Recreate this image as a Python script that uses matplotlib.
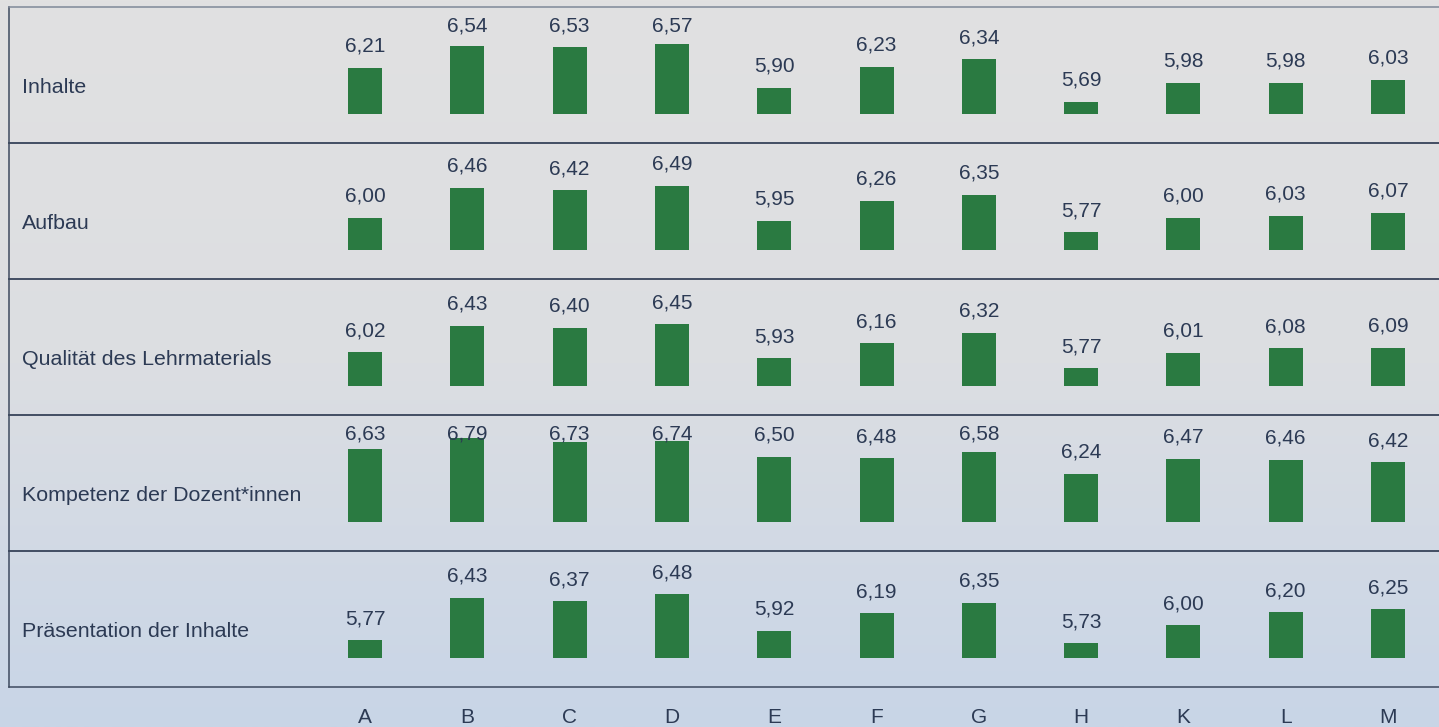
import numpy as np
import matplotlib
matplotlib.use("Agg")
import matplotlib.pyplot as plt
from matplotlib.colors import LinearSegmentedColormap
from matplotlib.transforms import blended_transform_factory

plt.rcParams['font.family'] = ['Liberation Sans', 'DejaVu Sans']

# ---------------- data ----------------
categories = ["A", "B", "C", "D", "E", "F", "G", "H", "K", "L", "M"]
row_labels = ["Inhalte", "Aufbau", "Qualität des Lehrmaterials",
              "Kompetenz der Dozent*innen", "Präsentation der Inhalte"]
inhalte      = [6.21, 6.54, 6.53, 6.57, 5.90, 6.23, 6.34, 5.69, 5.98, 5.98, 6.03]
aufbau       = [6.00, 6.46, 6.42, 6.49, 5.95, 6.26, 6.35, 5.77, 6.00, 6.03, 6.07]
qualitaet    = [6.02, 6.43, 6.40, 6.45, 5.93, 6.16, 6.32, 5.77, 6.01, 6.08, 6.09]
kompetenz    = [6.63, 6.79, 6.73, 6.74, 6.50, 6.48, 6.58, 6.24, 6.47, 6.46, 6.42]
praesentation = [5.77, 6.43, 6.37, 6.48, 5.92, 6.19, 6.35, 5.73, 6.00, 6.20, 6.25]
series = [inhalte, aufbau, qualitaet, kompetenz, praesentation]
baseline = 5.5

# ---------------- layout (pixels) ----------------
W, H = 1439, 727
DPI = 100
panel_top0 = 7
panel_h = 136
left_px = 9
right_px = 1441
base_off = 107          # baseline below panel top
ppu = 65.0              # pixels per value unit
col0_px, colN_px = 365.0, 1388.0
col_step = (colN_px - col0_px) / (len(categories) - 1)
bar_w = 34.0 / col_step

text_color = "#2c3a54"
bar_color = "#2a7a41"
line_color = "#3e4a5f"
fs = 15

fig = plt.figure(figsize=(W / DPI, H / DPI), dpi=DPI)

# background gradient
bg = fig.add_axes([0, 0, 1, 1], zorder=-10)
cmap = LinearSegmentedColormap.from_list("bg", ["#e1e1e1", "#dcdee2", "#c8d5e7"])
grad = np.linspace(0, 1, 256).reshape(-1, 1)
bg.imshow(grad, aspect="auto", cmap=cmap, extent=[0, 1, 0, 1], origin="upper")
bg.set_axis_off()

x = np.arange(len(categories))
xlim_left = -(col0_px - left_px) / col_step
xlim_right = (len(categories) - 1) + (right_px - colN_px) / col_step

for i, (lab, vals) in enumerate(zip(row_labels, series)):
    top_px = panel_top0 + i * panel_h
    ax = fig.add_axes([left_px / W, 1 - (top_px + panel_h) / H,
                       (right_px - left_px) / W, panel_h / H])
    ax.set_facecolor("none")
    ymin = baseline - (panel_h - base_off) / ppu
    ymax = baseline + base_off / ppu
    ax.set_xlim(xlim_left, xlim_right)
    ax.set_ylim(ymin, ymax)
    ax.bar(x, np.array(vals) - baseline, bottom=baseline, width=bar_w,
           color=bar_color, zorder=2)
    for xi, v in zip(x, vals):
        ty = min(v + 16.0 / ppu, ymax - 24 / ppu)
        ax.text(xi, ty, f"{v:.2f}".replace(".", ","), ha="center",
                va="baseline", fontsize=fs, color=text_color, zorder=3,
                clip_on=False)
    ax.text((22 - left_px) / (right_px - left_px), 1 - 86 / panel_h, lab,
            transform=ax.transAxes, ha="left", va="baseline",
            fontsize=15.4, color=text_color)
    ax.set_xticks([])
    ax.set_yticks([])
    for s in ["top", "bottom", "left"]:
        ax.spines[s].set_color(line_color)
        ax.spines[s].set_linewidth(1.1)
    ax.spines["right"].set_visible(False)
    if i == 0:
        ax.spines["top"].set_color("#7f8998")
    if i == len(series) - 1:
        tr = blended_transform_factory(ax.transData, fig.transFigure)
        for xi, c in zip(x, categories):
            ax.text(xi, 4.0 / H, c, transform=tr, ha="center",
                    va="baseline", fontsize=fs, color=text_color,
                    clip_on=False)

fig.savefig("out.png", dpi=DPI)
